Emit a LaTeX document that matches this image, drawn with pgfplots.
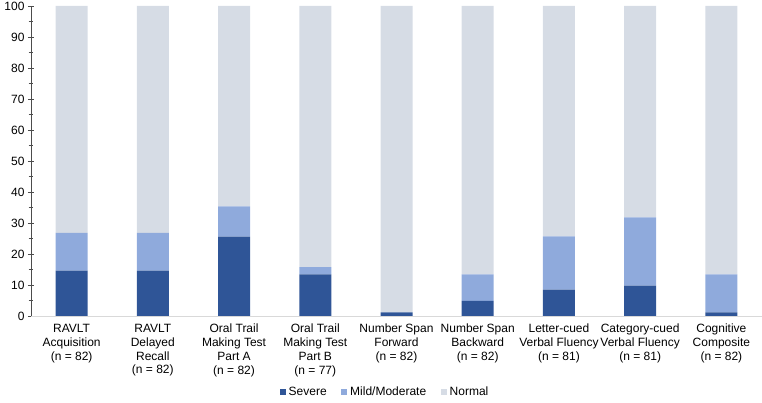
\documentclass[border=0pt]{standalone}
\usepackage{fontspec}
\setmainfont{Liberation Sans}
\usepackage{pgfplots}
\usepackage{pgfplotstable}
\pgfplotsset{compat=1.18}
\definecolor{sev}{HTML}{2F5597}
\definecolor{mild}{HTML}{8FAADC}
\definecolor{norm}{HTML}{D6DCE5}
\pgfplotstableread{
x severe mild normal
0 14.6 12.2 73.2
1 14.6 12.2 73.2
2 25.6 9.8 64.6
3 13.4 2.4 84.2
4 1.2 0 98.8
5 4.9 8.5 86.6
6 8.5 17.2 74.3
7 9.8 22.0 68.2
8 1.2 12.2 86.6
}\datatable
\begin{document}
\begin{tikzpicture}
\useasboundingbox (-31pt,-87pt) rectangle (731pt,316pt);
\begin{axis}[
  scale only axis,
  width=731pt, height=310pt,
  ybar stacked,
  bar width=32pt,
  xmin=-0.5, xmax=8.5,
  ymin=0, ymax=100,
  xtick={0,...,8},
  xticklabels={
    {RAVLT\\Acquisition\\(n = 82)},
    {RAVLT\\Delayed\\Recall\\(n = 82)},
    {Oral Trail\\Making Test\\Part A\\(n = 82)},
    {Oral Trail\\Making Test\\Part B\\(n = 77)},
    {Number Span\\Forward\\(n = 82)},
    {Number Span\\Backward\\(n = 82)},
    {Letter-cued\\Verbal Fluency\\(n = 81)},
    {Category-cued\\Verbal Fluency\\(n = 81)},
    {Cognitive\\Composite\\(n = 82)}},
  x tick label style={align=center, font=\fontsize{12}{13.8}\selectfont, inner sep=1pt, yshift=-4pt, anchor=north},
  y tick label style={font=\fontsize{12}{13.8}\selectfont},
  /pgf/number format/assume math mode=true,
  ytick={0,10,...,100},
  minor ytick={5,15,...,95},
  tick align=center,
  major tick length=6pt,
  minor tick length=4.5pt,
  xtick style={draw=none},
  ytick style={draw=black!70, line width=0.6pt},
  minor tick style={draw=black!70, line width=0.6pt},
  axis x line*=bottom,
  axis y line*=left,
  axis line style={-},
  x axis line style={draw=black!15, line width=0.8pt},
  y axis line style={draw=black!70, line width=0.6pt},
  legend columns=3,
  legend style={draw=none, at={(0.484,-0.246)}, anchor=center,
    font=\fontsize{12}{13.8}\selectfont,
    /tikz/every even column/.append style={column sep=13pt},
    nodes={inner sep=1.5pt}},
  legend image code/.code={\fill[#1] (0pt,-3pt) rectangle (6pt,3pt); \path (7.5pt,0pt);},
]
\addplot[fill=sev, draw=none] table[x=x, y=severe] {\datatable};
\addplot[fill=mild, draw=none] table[x=x, y=mild] {\datatable};
\addplot[fill=norm, draw=none] table[x=x, y=normal] {\datatable};
\legend{Severe, Mild/Moderate, Normal}
\end{axis}
\end{tikzpicture}
\end{document}
